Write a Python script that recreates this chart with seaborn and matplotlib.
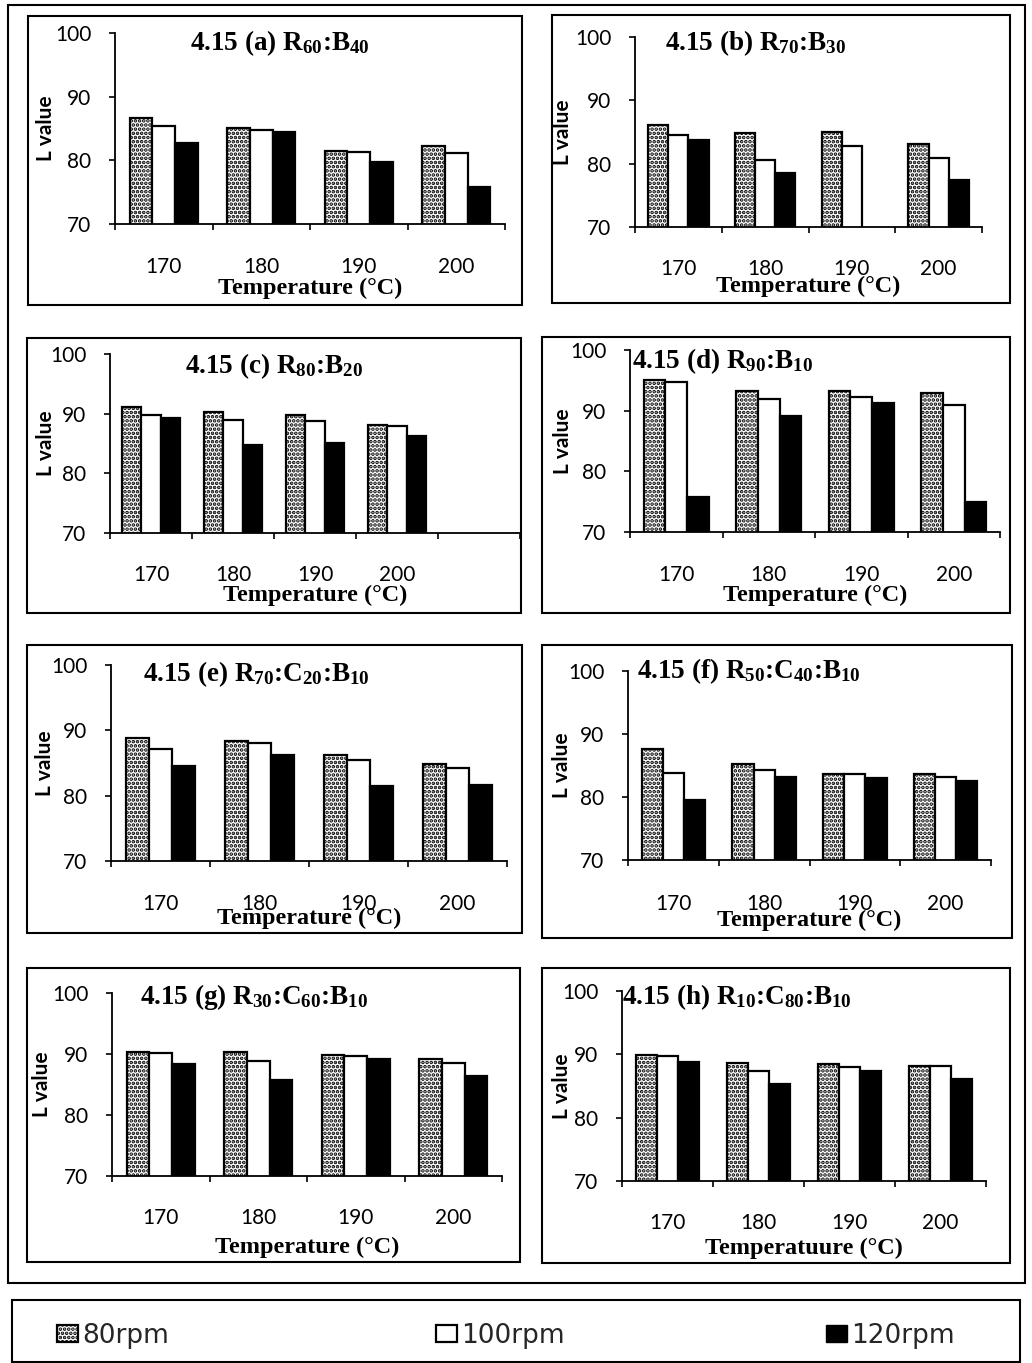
import numpy as np
import pandas as pd
import seaborn as sns
import matplotlib
matplotlib.use("Agg")
import matplotlib.pyplot as plt
from matplotlib.patches import Rectangle, Patch

# ---------------- data ----------------
temperatures = ["170", "180", "190", "200"]
speeds = ["80rpm", "100rpm", "120rpm"]

a_80 = [86.7, 85.1, 81.4, 82.2]
a_100 = [85.4, 84.7, 81.3, 81.1]
a_120 = [82.7, 84.5, 79.7, 75.8]

b_80 = [86.1, 84.8, 85.0, 83.1]
b_100 = [84.5, 80.6, 82.8, 80.9]
b_120 = [83.7, 78.5, np.nan, 77.5]

c_80 = [91.1, 90.2, 89.7, 88.1]
c_100 = [89.7, 89.0, 88.8, 87.9]
c_120 = [89.3, 84.7, 85.1, 86.3]

d_80 = [95.1, 93.2, 93.2, 92.9]
d_100 = [94.8, 91.9, 92.2, 90.9]
d_120 = [75.8, 89.2, 91.3, 74.9]

e_80 = [88.9, 88.4, 86.2, 84.9]
e_100 = [87.2, 88.0, 85.4, 84.3]
e_120 = [84.5, 86.3, 81.5, 81.7]

f_80 = [87.6, 85.3, 83.6, 83.6]
f_100 = [83.8, 84.3, 83.6, 83.2]
f_120 = [79.6, 83.2, 83.0, 82.5]

g_80 = [90.3, 90.3, 89.9, 89.2]
g_100 = [90.2, 88.8, 89.6, 88.6]
g_120 = [88.3, 85.7, 89.2, 86.4]

h_80 = [89.9, 88.7, 88.4, 88.2]
h_100 = [89.7, 87.3, 88.0, 88.2]
h_120 = [88.8, 85.3, 87.4, 86.1]

titles = [
    r"4.15 (a) R$_{60}$:B$_{40}$",
    r"4.15 (b) R$_{70}$:B$_{30}$",
    r"4.15 (c) R$_{80}$:B$_{20}$",
    r"4.15 (d) R$_{90}$:B$_{10}$",
    r"4.15 (e) R$_{70}$:C$_{20}$:B$_{10}$",
    r"4.15 (f) R$_{50}$:C$_{40}$:B$_{10}$",
    r"4.15 (g) R$_{30}$:C$_{60}$:B$_{10}$",
    r"4.15 (h) R$_{10}$:C$_{80}$:B$_{10}$",
]
xlabels = ["Temperature (°C)"] * 7 + ["Temperatuure (°C)"]
ylabel = "L value"
yticks = [70, 80, 90, 100]

series = [
    (a_80, a_100, a_120), (b_80, b_100, b_120),
    (c_80, c_100, c_120), (d_80, d_100, d_120),
    (e_80, e_100, e_120), (f_80, f_100, f_120),
    (g_80, g_100, g_120), (h_80, h_100, h_120),
]

# ---------------- layout (pixels) ----------------
W, H = 1032, 1363
sns.set_theme(style="white")
plt.rcParams["mathtext.default"] = "regular"
plt.rcParams["hatch.linewidth"] = 1.8

fig = plt.figure(figsize=(W / 100, H / 100), dpi=100)
fig.patch.set_facecolor("white")


def fx(x):
    return x / W


def fy(y):
    return 1 - y / H


# axes: x of left/right boundary, y of 100 and 70, number of slots
axes_px = [
    (115, 505, 33, 224, 4), (635, 982, 37, 227, 4),
    (110, 520, 354, 533, 5), (630, 1000, 350, 532, 4),
    (111, 507, 665, 861, 4), (628, 991, 671, 860, 4),
    (112, 502, 993, 1176, 4), (622, 986, 991, 1181, 4),
]
# panel frames: left, right, top, bottom
frames_px = [
    (28, 522, 16, 305), (552, 1010, 15, 303),
    (27, 521, 338, 613), (542, 1010, 337, 613),
    (27, 522, 645, 933), (542, 1012, 645, 938),
    (27, 520, 968, 1262), (542, 1010, 968, 1263),
]
# title left x / center y ; tick-label center y ; xlabel center y ; ylabel x
title_px = [(190, 43), (665, 43), (185, 366), (632, 361),
            (143, 674), (637, 671), (140, 997), (622, 997)]
ticklab_y = [265, 267, 573, 573, 902, 902, 1216, 1221]
xlab_y = [288, 286, 595, 595, 918, 920, 1247, 1248]
ylab_x = [46, 563, 46, 563, 45, 562, 42, 562]

palette = {"80rpm": "white", "100rpm": "white", "120rpm": "black"}
dot_hatch = "...."

tick_font = dict(family="Lato", size=15)
for i, (vals, (x0, x1, ytop, ybot, nslot)) in enumerate(zip(series, axes_px)):
    ax = fig.add_axes([fx(x0), fy(ybot), fx(x1 - x0), (ybot - ytop) / H])
    ax.set_facecolor("none")
    df = pd.DataFrame({
        "Temperature": temperatures * 3,
        "Speed": np.repeat(speeds, len(temperatures)),
        "L": np.concatenate(vals),
    }).dropna()
    order = temperatures + [" "] * (nslot - len(temperatures))
    sns.barplot(data=df, x="Temperature", y="L", hue="Speed",
                order=order, hue_order=speeds, palette=palette,
                width=0.7, gap=0, errorbar=None, legend=False,
                edgecolor="black", linewidth=1.6, ax=ax)
    for bar in ax.containers[0]:
        bar.set_hatch(dot_hatch)
    ax.set_ylim(70, 100)
    ax.set_xlim(-0.5, nslot - 0.5)
    ax.set_yticks(yticks)
    ax.set_yticklabels([str(t) for t in yticks], fontdict=tick_font)
    ax.set_xticks(range(len(temperatures)))
    ax.set_xticklabels(temperatures, fontdict=tick_font)
    ax.set_xticks(np.arange(-0.5, nslot), minor=True)
    pad_x = (ticklab_y[i] - ybot - 8) * 0.72
    ax.tick_params(axis="x", which="major", length=0, pad=pad_x, colors="black")
    ax.tick_params(axis="x", which="minor", length=4, width=1.2,
                   direction="out", bottom=True, color="black")
    ax.tick_params(axis="y", which="major", length=4, width=1.2,
                   direction="out", left=True, pad=13, colors="black")
    for side in ("top", "right"):
        ax.spines[side].set_visible(False)
    for side in ("left", "bottom"):
        ax.spines[side].set_color("black")
        ax.spines[side].set_linewidth(1.3)
    ax.set_xlabel("")
    ax.set_ylabel("")
    ax.grid(False)

    fig.text(fx(title_px[i][0]), fy(title_px[i][1]), titles[i],
             ha="left", va="center", family="Liberation Serif",
             weight="bold", size=19.5, color="black")
    fig.text(fx((x0 + x1) / 2), fy(xlab_y[i]), xlabels[i], ha="center",
             va="center", family="Liberation Serif", weight="bold",
             size=17.5, color="black")
    fig.text(fx(ylab_x[i]), fy((ytop + ybot) / 2), ylabel, ha="center",
             va="center", rotation=90, family="Lato", weight="bold",
             size=15, color="black")

    l, r, t, b = frames_px[i]
    fig.patches.append(Rectangle((fx(l), fy(b)), fx(r - l), (b - t) / H,
                                 transform=fig.transFigure, fill=False,
                                 edgecolor="black", linewidth=1.5))

# outer border around the panel grid
fig.patches.append(Rectangle((fx(8), fy(1283)), fx(1025 - 8), (1283 - 5) / H,
                             transform=fig.transFigure, fill=False,
                             edgecolor="black", linewidth=1.5))
# legend box
fig.patches.append(Rectangle((fx(12), fy(1362)), fx(1020 - 12), (1362 - 1300) / H,
                             transform=fig.transFigure, fill=False,
                             edgecolor="black", linewidth=1.5))

handles = [
    Patch(facecolor="white", edgecolor="black", hatch=dot_hatch,
          linewidth=1.6, label="80rpm"),
    Patch(facecolor="white", edgecolor="black", linewidth=1.6, label="100rpm"),
    Patch(facecolor="black", edgecolor="black", label="120rpm"),
]
for hnd, xpos in zip(handles, [57, 436, 826]):
    fig.legend(handles=[hnd], loc="center left",
               bbox_to_anchor=(fx(xpos), fy(1336)), frameon=False,
               handlelength=0.8, handleheight=0.6, handletextpad=0.15,
               borderpad=0, borderaxespad=0,
               prop=dict(family="DejaVu Sans", size=19))

fig.savefig("out.png", dpi=100, facecolor="white")
